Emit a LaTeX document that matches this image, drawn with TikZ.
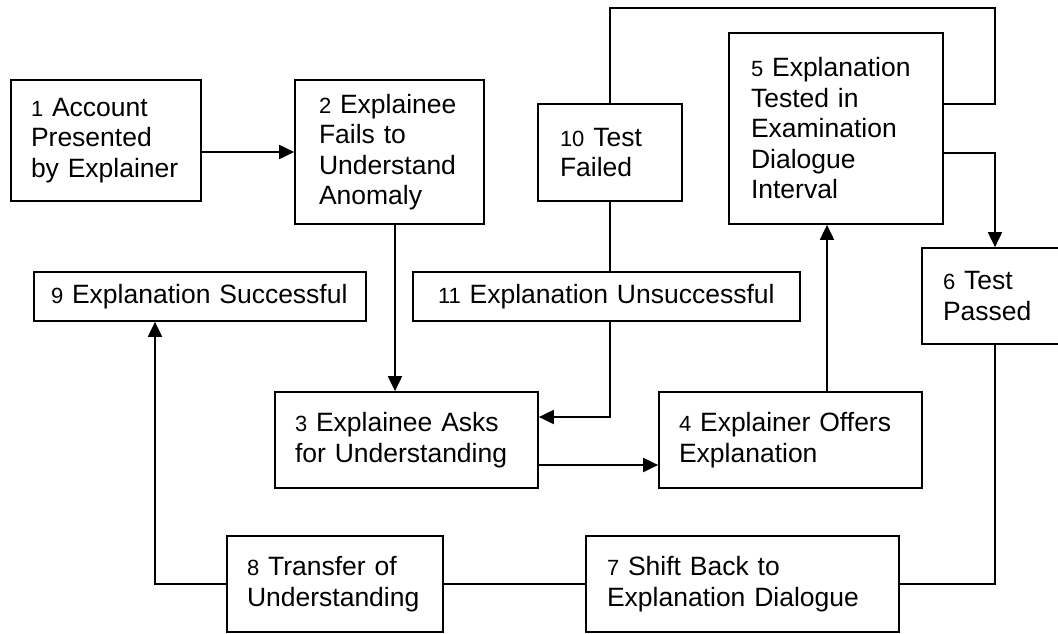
\documentclass[tikz,border=0pt]{standalone}
\usepackage{fontspec}
\setmainfont{Liberation Sans}
\usetikzlibrary{arrows.meta}
\newcommand{\stepno}[1]{{\fontsize{22}{26}\selectfont #1}}

\begin{document}
\begin{tikzpicture}[x=1pt,y=-1pt,line width=1.9pt,
                    font=\fontsize{26.5}{30.5}\selectfont,
                    box/.style={draw,line width=1.7pt,align=left,inner ysep=2pt,inner xsep=21pt},
                    >={Triangle[length=15pt,width=14pt]}]
                            \useasboundingbox (0,0) rectangle (1058,633);
                            \node[box,inner xsep=20pt,text width=150pt,minimum height=121pt] (1) at (106,140.5) {\stepno{1} Account\\Presented\\by Explainer};
                            \node[box,inner xsep=24pt,text width=141pt,minimum height=144pt] (2) at (389.5,152) {\stepno{2} Explainee\\Fails to\\Understand\\Anomaly};
                            \node[box,inner xsep=20pt,text width=223pt,minimum height=96pt]  (3) at (406.5,440) {\stepno{3} Explainee Asks\\for Understanding};
                            \node[box,inner xsep=20pt,text width=223pt,minimum height=96pt]  (4) at (790.5,440) {\stepno{4} Explainer Offers\\Explanation};
                            \node[box,inner xsep=22pt,text width=170pt,minimum height=191pt] (5) at (836,128.5) {\stepno{5} Explanation\\Tested in\\Examination\\Dialogue\\Interval};
                            \node[box,text width=104pt,minimum height=96pt]  (6) at (995,296) {\stepno{6} Test\\Passed};
                            \node[box,text width=271pt,minimum height=96pt]  (7) at (742.5,584) {\stepno{7} Shift Back to\\Explanation Dialogue};
                            \node[box,inner xsep=20pt,text width=176pt,minimum height=96pt]  (8) at (335,584) {\stepno{8} Transfer of\\Understanding};
                            \node[box,inner xsep=17pt,text width=298pt,minimum height=49pt]  (9) at (200,296.5) {\stepno{9} Explanation Successful};
                            \node[box,inner xsep=22pt,text width=100pt,minimum height=97pt] (10) at (610,152.5) {\stepno{10} Test\\Failed};
                            \node[box,inner xsep=25pt,text width=337pt,minimum height=49pt] (11) at (606.5,296.5) {\stepno{11} Explanation Unsuccessful};
                            \coordinate (top) at (995,8);

                            \draw[->] (1.east |- 2) -- (2.west);
                            \draw[->] ([xshift=5.5pt]2.south) -- ([xshift=5.5pt]2.south |- 3.north);
                            \draw[->] ([yshift=-25pt]3.east) -- ([yshift=-25pt]3.east -| 4.west);
                            \draw[->] ([xshift=-9pt]5.south |- 4.north) -- ([xshift=-9pt]5.south);
                            \draw[->] ([yshift=-24.5pt]5.east) -| (6.north);
                            \draw (10.north) |- (top) |- ([yshift=24.5pt]5.east);
                            \draw (10.south) -- (10.south |- 11.north);
                            \draw[->] (11.south -| 10) |- ([yshift=23pt]3.east);
                            \draw (6.south) |- (7.east);
                            \draw (8.east) -- (7.west);
                            \draw[->] (8.west) -| ([xshift=-45pt]9.south);
                        \end{tikzpicture}
\end{document}
